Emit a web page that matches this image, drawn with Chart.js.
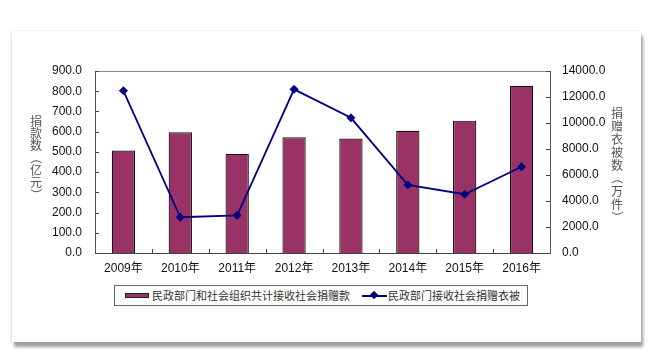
<!DOCTYPE html>
<html>
<head>
<meta charset="utf-8">
<script src="https://cdn.jsdelivr.net/npm/chart.js@4/dist/chart.umd.min.js"></script>
<style>
  html, body { margin: 0; padding: 0; background: #ffffff; }
  body { width: 660px; height: 357px; position: relative; overflow: hidden; font-family: "Liberation Sans", "Noto Sans CJK SC", sans-serif; }
  #card { position: absolute; left: 12px; top: 31px; width: 629px; height: 311px; background: #fff;
          box-shadow: 2px 5px 3px rgba(0,0,0,0.38), -1px 0 2px rgba(0,0,0,0.12); }
  #wrap { position: absolute; left: 0; top: 0; width: 660px; height: 357px; }
  #legend { position: absolute; left: 114px; top: 285px; width: 412px; height: 19px; border: 1px solid #666; background: #fff;
            font-family: "Noto Sans CJK SC", sans-serif; font-size: 11px; color: #333; }
  .sw { position: absolute; }
  .lt { position: absolute; top: 2px; line-height: 15px; white-space: nowrap; }
</style>
</head>
<body>
<div id="card"></div>
<div id="wrap"><canvas id="c" width="660" height="357"></canvas></div>
<div id="legend">
  <div class="sw" style="left:10px; top:7px; width:22px; height:3px; background:#993366; border:1px solid #222;"></div>
  <div class="lt" id="l1" style="left:37px;"></div>
  <div class="sw" style="left:247px; top:9px; width:25px; height:2px; background:#000080;"></div>
  <div class="sw" style="left:256px; top:6px; width:6px; height:6px; background:#000080; transform:rotate(45deg);"></div>
  <div class="lt" id="l2" style="left:273px;"></div>
</div>
<script>
const categories = ["2009年", "2010年", "2011年", "2012年", "2013年", "2014年", "2015年", "2016年"];
const donationMoney = [507.2, 596.8, 490.1, 572.5, 566.4, 604.4, 654.5, 827.0];
const donatedClothes = [12480, 2750, 2900, 12590, 10400, 5240, 4520, 6630];
const seriesNames = ["民政部门和社会组织共计接收社会捐赠款", "民政部门接收社会捐赠衣被"];
const leftTitle = "捐款数（亿元）";
const rightTitle = "捐赠衣被数（万件）";
const leftTicks = [0, 100, 200, 300, 400, 500, 600, 700, 800, 900];
const rightTicks = [0, 2000, 4000, 6000, 8000, 10000, 12000, 14000];

document.getElementById('l1').textContent = seriesNames[0];
document.getElementById('l2').textContent = seriesNames[1];

const tickFont = { family: '"Liberation Sans", "Noto Sans CJK SC", sans-serif', size: 12 };

function drawVertical(ctx, text, cx, cy, size, step) {
  const chars = Array.from(text);
  const total = chars.length * step;
  let y = cy - total / 2 + step / 2;
  ctx.save();
  ctx.font = size + 'px "Noto Sans CJK SC", sans-serif';
  ctx.fillStyle = '#555';
  ctx.textAlign = 'center';
  ctx.textBaseline = 'middle';
  chars.forEach(ch => {
    if (ch === '（' || ch === '）' || ch === '(' || ch === ')') {
      ctx.save();
      ctx.translate(cx, y);
      ctx.rotate(Math.PI / 2);
      ctx.fillText(ch, 0, 0);
      ctx.restore();
    } else {
      ctx.fillText(ch, cx, y);
    }
    y += step;
  });
  ctx.restore();
}

const decor = {
  id: 'decor',
  afterDraw(chart) {
    const ctx = chart.ctx, a = chart.chartArea;
    const x = chart.scales.x, y = chart.scales.y, y1 = chart.scales.y1;
    ctx.save();
    ctx.lineWidth = 1;
    ctx.strokeStyle = '#888';
    ctx.beginPath();
    ctx.moveTo(a.left, a.top + 0.5); ctx.lineTo(a.right, a.top + 0.5);
    ctx.stroke();
    ctx.strokeStyle = '#444';
    ctx.beginPath();
    y.ticks.forEach(t => {
      const py = Math.round(y.getPixelForValue(t.value)) + 0.5;
      ctx.moveTo(a.left, py); ctx.lineTo(a.left + 4, py);
    });
    y1.ticks.forEach(t => {
      const py = Math.round(y1.getPixelForValue(t.value)) + 0.5;
      ctx.moveTo(a.right - 4, py); ctx.lineTo(a.right, py);
    });
    for (let i = 1; i < categories.length; i++) {
      const px = Math.round((x.getPixelForValue(i - 1) + x.getPixelForValue(i)) / 2) + 0.5;
      ctx.moveTo(px, a.bottom); ctx.lineTo(px, a.bottom - 4);
    }
    ctx.stroke();
    ctx.restore();
    drawVertical(ctx, leftTitle, 36, 158, 12, 12.2);
    drawVertical(ctx, rightTitle, 617, 165, 12, 13);
  }
};

const noGrid = { display: false, drawTicks: false, tickLength: 0 };

new Chart(document.getElementById('c'), {
  data: {
    labels: categories,
    datasets: [
      { type: 'line', label: seriesNames[1], data: donatedClothes, yAxisID: 'y1', order: 0,
        borderColor: '#000080', backgroundColor: '#000080', borderWidth: 1.8,
        pointStyle: 'rectRot', pointRadius: 4, pointBorderWidth: 1, tension: 0 },
      { type: 'bar', label: seriesNames[0], data: donationMoney, yAxisID: 'y', order: 1,
        backgroundColor: '#993366', borderColor: '#111', borderWidth: 1.2,
        categoryPercentage: 1, barPercentage: 0.41 }
    ]
  },
  options: {
    responsive: false,
    animation: false,
    layout: { padding: { top: 71, left: 0, right: 0, bottom: 0 } },
    plugins: { legend: { display: false }, tooltip: { enabled: false } },
    scales: {
      x: {
        offset: true,
        grid: noGrid,
        border: { display: true, color: '#444', width: 1 },
        ticks: { font: tickFont, color: '#111', padding: 8, maxRotation: 0 },
        afterFit(s) { s.height = 104; }
      },
      y: {
        position: 'left', min: 0, max: 900,
        afterBuildTicks(s) { s.ticks = leftTicks.map(v => ({ value: v })); },
        grid: noGrid,
        border: { display: true, color: '#555', width: 1 },
        ticks: { font: tickFont, color: '#111', padding: 13, callback: v => Number(v).toFixed(1) },
        afterFit(s) { s.width = 95; }
      },
      y1: {
        position: 'right', min: 0, max: 14000,
        afterBuildTicks(s) { s.ticks = rightTicks.map(v => ({ value: v })); },
        grid: noGrid,
        border: { display: true, color: '#555', width: 1 },
        ticks: { font: tickFont, color: '#111', padding: 12, callback: v => Number(v).toFixed(1) },
        afterFit(s) { s.width = 110; }
      }
    }
  },
  plugins: [decor]
});
</script>
</body>
</html>
